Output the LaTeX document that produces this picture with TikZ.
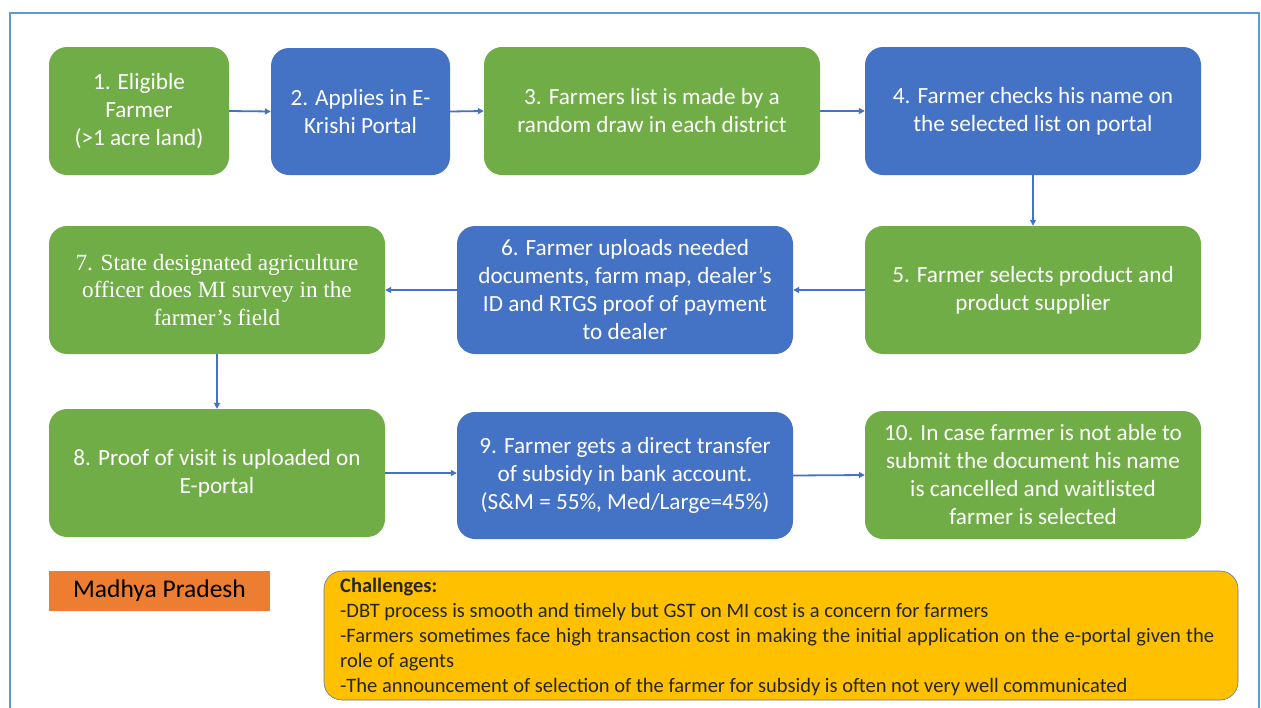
\documentclass[tikz,border=0pt]{standalone}
\usepackage{fontspec}
\setmainfont{Carlito}
\newfontfamily\serifbox{Liberation Serif}
\usetikzlibrary{arrows.meta}
\definecolor{mygreen}{HTML}{70AD47}
\definecolor{myblue}{HTML}{4472C4}
\definecolor{myorange}{HTML}{ED7D31}
\definecolor{mygold}{HTML}{FFC000}
\definecolor{myframe}{HTML}{5B9BD5}
\tikzset{
  box/.style={rounded corners=18pt, text=white, align=center, inner sep=0pt,
    font=\fontsize{23.2}{28}\selectfont},
  gbox/.style={box, fill=mygreen},
  bbox/.style={box, fill=myblue},
  conn/.style={draw=myblue, line width=1.8pt, -{Triangle[length=6pt,width=6pt]}},
}
\begin{document}
\begin{tikzpicture}[x=1pt,y=-1pt]
\useasboundingbox (0,0) rectangle (1261,707);
\fill[white] (0,0) rectangle (1261,707);
\draw[myframe, line width=2pt] (10,708) -- (10,13) -- (1259,13) -- (1259,708);
% boxes
\node[gbox, minimum width=180pt, minimum height=128pt] (b1) at (139,111) {1. Eligible\\Farmer\\(>1 acre land)};
\node[bbox, minimum width=179pt, minimum height=127pt] (b2) at (360.5,111.5) {2. Applies in E-\\Krishi Portal};
\node[gbox, minimum width=336pt, minimum height=128pt] (b3) at (652,111) {3. Farmers list is made by a\\random draw in each district};
\node[bbox, minimum width=336pt, minimum height=128pt] (b4) at (1033,111) {4. Farmer checks his name on\\the selected list on portal};
\node[gbox, minimum width=336pt, minimum height=128pt] (b5) at (1033,290) {5. Farmer selects product and\\product supplier};
\node[bbox, minimum width=336pt, minimum height=128pt] (b6) at (625,290) {6. Farmer uploads needed\\documents, farm map, dealer’s\\ID and RTGS proof of payment\\to dealer};
\node[gbox, minimum width=336pt, minimum height=128pt, font=\serifbox\fontsize{23.2}{27.5}\selectfont] (b7) at (217,290) {7. State designated agriculture\\officer does MI survey in the\\farmer’s field};
\node[gbox, minimum width=336pt, minimum height=128pt] (b8) at (217,473) {8. Proof of visit is uploaded on\\E-portal};
\node[bbox, minimum width=336pt, minimum height=127pt] (b9) at (625,475.5) {9. Farmer gets a direct transfer\\of subsidy in bank account.\\(S\&M = 55\%, Med/Large=45\%)};
\node[gbox, minimum width=336pt, minimum height=128pt] (b10) at (1033,475) {10. In case farmer is not able to\\submit the document his name\\is cancelled and waitlisted\\farmer is selected};
% label
\node[fill=myorange, minimum width=221pt, minimum height=40pt, inner sep=0pt,
  font=\fontsize{25.5}{28}\selectfont, text=black] (mp) at (159.5,591) {Madhya Pradesh};
% challenges
\node[fill=mygold, draw=myblue!60!gray, line width=0.6pt, rounded corners=18pt,
  minimum width=914pt, minimum height=129pt, inner sep=0pt] (ch) at (781,635.5) {};
\node[anchor=north west, inner sep=0pt, text width=874pt, align=justify,
  font=\fontsize{20.5}{25}\selectfont, text=black!85] (cht) at (340,578)
  {\textbf{Challenges:}\\
  -DBT process is smooth and timely but GST on MI cost is a concern for farmers\\
  -Farmers sometimes face high transaction cost in making the initial application on the e-portal given the role of agents\\
  -The announcement of selection of the farmer for subsidy is often not very well communicated};
% connectors
\draw[conn] (b1.east) -- (b2.west);
\draw[conn] (b2.east) -- (b3.west);
\draw[conn] (b3.east) -- (b4.west);
\draw[conn] (b4.south) -- (b5.north);
\draw[conn] (b5.west) -- (b6.east);
\draw[conn] (b6.west) -- (b7.east);
\draw[conn] (b7.south) -- (b8.north);
\draw[conn] (b8.east) -- (b8.east -| b9.west);
\draw[conn] (b9.east) -- (b10.west);
\end{tikzpicture}
\end{document}
